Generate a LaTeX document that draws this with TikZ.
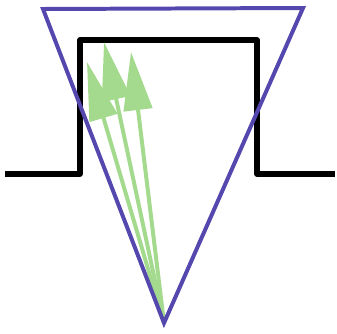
\documentclass[tikz,border=0pt]{standalone}
\usetikzlibrary{arrows.meta}
\definecolor{conoblue}{RGB}{84,72,174}
\definecolor{rayogreen}{RGB}{164,218,142}
\tikzset{
    pulso/.style={line width=4.3pt, black, line join=round},
    cono/.style={line width=3.4pt, conoblue, line join=miter},
    rayo/.style={line width=3.4pt, rayogreen,
        -{Triangle[length=1.75cm, width=0.85cm]}}
}
\begin{document}
\begin{tikzpicture}[x=0.03cm, y=-0.03cm]
    \useasboundingbox (0,0) rectangle (337,333);
    \coordinate (vertice) at (164,323);
    \coordinate (izq) at (43,9);
    \coordinate (der) at (303,8);
    \coordinate (puntaA) at (87,62);
    \coordinate (puntaB) at (104,42);
    \coordinate (puntaC) at (131,52);
    \draw[pulso] (5,174) -- (80,174) -- (80,40) -- (257,40) -- (257,174) -- (335,174);
    \draw[rayo] (vertice) -- (puntaA);
    \draw[rayo] (vertice) -- (puntaB);
    \draw[rayo] (vertice) -- (puntaC);
    \draw[cono] (izq) -- (der) -- (vertice) -- cycle;
\end{tikzpicture}
\end{document}
